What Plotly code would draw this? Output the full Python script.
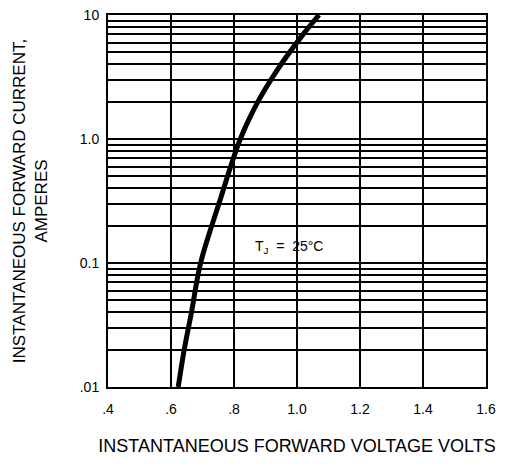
import math
import plotly.graph_objects as go

# Curve (forward voltage V, forward current A)
voltage = [0.623, 0.642, 0.665, 0.694, 0.752, 0.82, 0.876, 0.934, 1.012, 1.07]
current = [0.01, 0.02, 0.04, 0.1, 0.3, 1.0, 2.0, 3.5, 6.6, 10.0]

x_ticks = [0.4, 0.6, 0.8, 1.0, 1.2, 1.4, 1.6]
x_labels = [".4", ".6", ".8", "1.0", "1.2", "1.4", "1.6"]

decades = [0.01, 0.1, 1.0]
decade_labels = {0.01: ".01", 0.1: "0.1", 1.0: "1.0", 10.0: "10"}
mantissas = [1, 2, 3, 4, 5, 6, 7, 8, 9]

y_ticks = [round(d * m, 4) for d in decades for m in mantissas] + [10.0]
y_labels = [decade_labels.get(v, "") for v in y_ticks]

label_v, label_i = 0.86, 0.135

font_family = "Liberation Sans, Arial, Helvetica, sans-serif"

fig = go.Figure()
fig.add_trace(go.Scatter(
    x=voltage, y=current, mode="lines",
    line=dict(color="black", width=5, shape="spline", smoothing=1.0),
    showlegend=False, hoverinfo="skip",
))

fig.add_annotation(
    x=label_v, y=math.log10(label_i), yref="y", xref="x",
    text="T<sub>J</sub>  =  25°C", showarrow=False,
    xanchor="left", yanchor="middle",
    font=dict(family=font_family, size=14, color="black"),
)

# page body adds an 8px offset, so the figure is 8px smaller and margins shifted
fig.update_layout(
    width=510, height=456,
    margin=dict(l=100, r=32, t=7, b=77),
    paper_bgcolor="white", plot_bgcolor="white",
    font=dict(family=font_family, size=13, color="black"),
    xaxis=dict(
        range=[0.4, 1.6], tickvals=x_ticks, ticktext=x_labels,
        showgrid=True, gridcolor="black", gridwidth=1.5,
        showline=True, linecolor="black", linewidth=2, mirror=True,
        ticks="", ticklabelstandoff=8, zeroline=False, automargin=False,
        ticklabeloverflow="allow",
        tickfont=dict(size=14),
        title=dict(text="INSTANTANEOUS FORWARD VOLTAGE VOLTS",
                   font=dict(size=18), standoff=24),
    ),
    yaxis=dict(
        type="log", range=[-2, 1], tickvals=y_ticks, ticktext=y_labels,
        showgrid=True, gridcolor="black", gridwidth=1.5,
        showline=True, linecolor="black", linewidth=2, mirror=True,
        ticks="", ticklabelstandoff=4, zeroline=False, automargin=False,
        ticklabeloverflow="allow",
        tickfont=dict(size=14),
        title=dict(text="INSTANTANEOUS FORWARD CURRENT,<br>AMPERES",
                   font=dict(size=17), standoff=28),
    ),
)

fig.write_html("out.html")
